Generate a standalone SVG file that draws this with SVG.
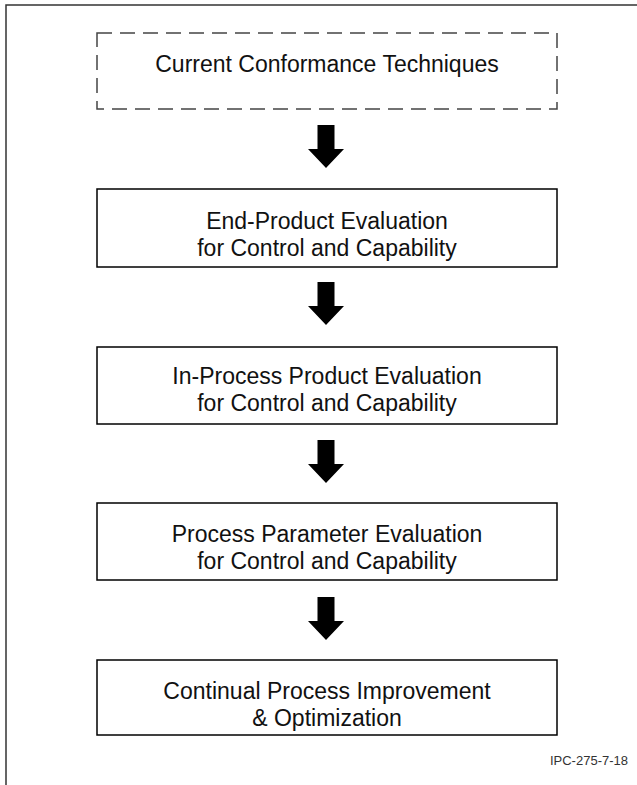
<svg xmlns="http://www.w3.org/2000/svg" width="637" height="785" viewBox="0 0 637 785">
<style>
.frame{stroke:#333;stroke-width:1.5;fill:none}
.box{fill:#fff;stroke:#000;stroke-width:1.5}
.dbox{fill:#fff;stroke:#444;stroke-width:1.5;stroke-dasharray:15 8}
.t{font-family:"Liberation Sans",Arial,sans-serif;font-size:23px;fill:#111;text-anchor:middle}
.id{font-family:"Liberation Sans",Arial,sans-serif;font-size:13px;fill:#333;text-anchor:end}
.arr{fill:#000}
</style>
<defs>
<path id="arrow" d="M-8.5,0 H8.5 V24 H18 L0,43 L-18,24 H-8.5 Z"/>
</defs>
<rect width="637" height="785" fill="#fff"/>
<path class="frame" d="M6,785 V5 H637"/>
<g id="n0">
<rect class="dbox" x="97" y="33" width="460" height="76"/>
<text class="t" x="327" y="72">Current Conformance Techniques</text>
</g>
<g id="n1">
<rect class="box" x="97" y="189" width="460" height="78"/>
<text class="t" x="327" y="229">End-Product Evaluation</text>
<text class="t" x="327" y="256">for Control and Capability</text>
</g>
<g id="n2">
<rect class="box" x="97" y="347" width="460" height="77"/>
<text class="t" x="327" y="384">In-Process Product Evaluation</text>
<text class="t" x="327" y="411">for Control and Capability</text>
</g>
<g id="n3">
<rect class="box" x="97" y="503" width="460" height="77"/>
<text class="t" x="327" y="542">Process Parameter Evaluation</text>
<text class="t" x="327" y="569">for Control and Capability</text>
</g>
<g id="n4">
<rect class="box" x="97" y="660" width="460" height="75"/>
<text class="t" x="327" y="699">Continual Process Improvement</text>
<text class="t" x="327" y="726">&amp; Optimization</text>
</g>
<g id="connectors" class="arr">
<use href="#arrow" x="326" y="125"/>
<use href="#arrow" x="326" y="282"/>
<use href="#arrow" x="326" y="440"/>
<use href="#arrow" x="326" y="597"/>
</g>
<text class="id" x="628" y="765">IPC-275-7-18</text>
</svg>
